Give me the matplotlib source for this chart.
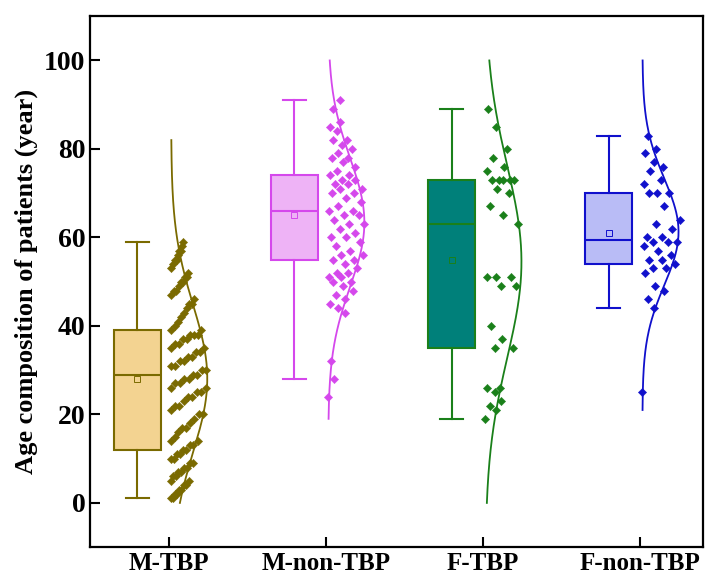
import numpy as np
import matplotlib
matplotlib.use("Agg")
import matplotlib.pyplot as plt

# groups and ages
groups = ["M-TBP", "M-non-TBP", "F-TBP", "F-non-TBP"]

m_tbp = [1, 1, 2, 2, 3, 3, 4, 4, 5, 5, 6, 6, 7, 7, 8, 8, 9, 9, 10, 10, 11, 11, 12, 12,
         13, 13, 14, 14, 15, 16, 17, 17, 18, 19, 20, 20, 21, 22, 22, 23, 24, 24, 25, 25,
         26, 26, 27, 27, 28, 28, 29, 29, 30, 30, 31, 31, 32, 32, 33, 33, 34, 34, 35, 35,
         36, 36, 37, 37, 38, 38, 38, 39, 39, 40, 41, 42, 43, 44, 45, 45, 46, 47, 48, 48,
         49, 50, 50, 51, 51, 52, 53, 54, 55, 55, 56, 57, 57, 58, 59]
m_non_tbp = [24, 28, 32, 43, 44, 45, 46, 47, 48, 49, 50, 50, 51, 51, 52, 52, 53, 54, 55,
             55, 56, 56, 57, 58, 59, 60, 60, 61, 62, 63, 63, 64, 65, 65, 66, 66, 67, 68,
             69, 70, 70, 71, 71, 72, 72, 73, 73, 74, 74, 75, 76, 77, 78, 78, 79, 80, 81,
             82, 82, 84, 85, 86, 89, 91]
f_tbp = [19, 21, 22, 23, 25, 26, 26, 35, 35, 37, 40, 49, 49, 51, 51, 51, 63, 65, 67, 70,
         71, 73, 73, 73, 73, 73, 75, 76, 78, 80, 85, 89]
f_non_tbp = [25, 44, 46, 48, 49, 52, 53, 53, 54, 55, 55, 56, 57, 58, 59, 59, 59, 60, 60,
             62, 63, 64, 67, 70, 70, 70, 72, 73, 75, 76, 77, 79, 80, 83]

# box statistics as drawn in the reference
q1 = [12, 55, 35, 54]
med = [29, 66, 63, 59.5]
q3 = [39, 74, 73, 70]
whislo = [1, 28, 19, 44]
whishi = [59, 91, 89, 83]
means = [28, 65, 55, 61]

# y-range of the normal curves
curve_lo = [0, 19, 0, 21]
curve_hi = [82, 100, 100, 100]

line_colors = ["#7A6A00", "#D548EC", "#1A801A", "#1010CC"]
fill_colors = ["#F3D391", "#EEB3F6", "#00807A", "#B9BCF6"]

plt.rcParams["font.family"] = ["Liberation Serif", "DejaVu Serif"]
plt.rcParams["font.weight"] = "bold"

fig = plt.figure(figsize=(7.05, 5.79), dpi=100)
ax = fig.add_axes([0.128, 0.055, 0.869, 0.917])

data = [m_tbp, m_non_tbp, f_tbp, f_non_tbp]
pos = np.arange(1, len(groups) + 1)
peak_w = 0.23
golden = 0.6180339887

for i, vals in enumerate(data):
    vals = np.sort(np.array(vals, dtype=float))
    c = line_colors[i]
    p = pos[i]

    # box
    stats = [dict(q1=q1[i], med=med[i], q3=q3[i], whislo=whislo[i], whishi=whishi[i],
                  mean=means[i], fliers=[])]
    ax.bxp(stats, positions=[p - 0.2], widths=0.3, showmeans=True, patch_artist=True,
           boxprops=dict(facecolor=fill_colors[i], edgecolor=c, linewidth=1.5),
           medianprops=dict(color=c, linewidth=1.5),
           whiskerprops=dict(color=c, linewidth=1.5),
           capprops=dict(color=c, linewidth=1.5), capwidths=0.15,
           meanprops=dict(marker="s", markersize=4, markerfacecolor="none",
                          markeredgecolor=c, markeredgewidth=0.7))

    # normal curve
    mu, sd = vals.mean(), vals.std()
    yy = np.linspace(curve_lo[i], curve_hi[i], 300)
    dens = np.exp(-0.5 * ((yy - mu) / sd) ** 2)
    base = p + 0.015
    ax.plot(base + peak_w * dens, yy, color=c, linewidth=1.3)

    # jittered points
    d_pts = np.exp(-0.5 * ((vals - mu) / sd) ** 2)
    if i == 0:
        frac = (np.arange(len(vals)) % 9) / 9.0
    else:
        frac = (np.arange(len(vals)) * golden) % 1
    xs = base + frac * (0.05 + 0.2 * d_pts)
    ax.scatter(xs, vals, marker="D", s=18, color=c, edgecolors=c, linewidths=0.3, zorder=3)

ax.set_xlim(0.5, 4.4)
ax.set_ylim(-10, 110)
ax.set_xticks(pos)
ax.set_xticklabels(groups, fontsize=18, fontweight="bold")
ax.set_yticks([0, 20, 40, 60, 80, 100])
ax.tick_params(axis="y", labelsize=20, direction="in", length=7, width=1.5)
ax.tick_params(axis="x", direction="in", length=7, width=1.5)
ax.set_ylabel("Age composition of patients (year)", fontsize=19, fontweight="bold")
for s in ax.spines.values():
    s.set_linewidth(1.6)

fig.savefig("out.png", dpi=100)
